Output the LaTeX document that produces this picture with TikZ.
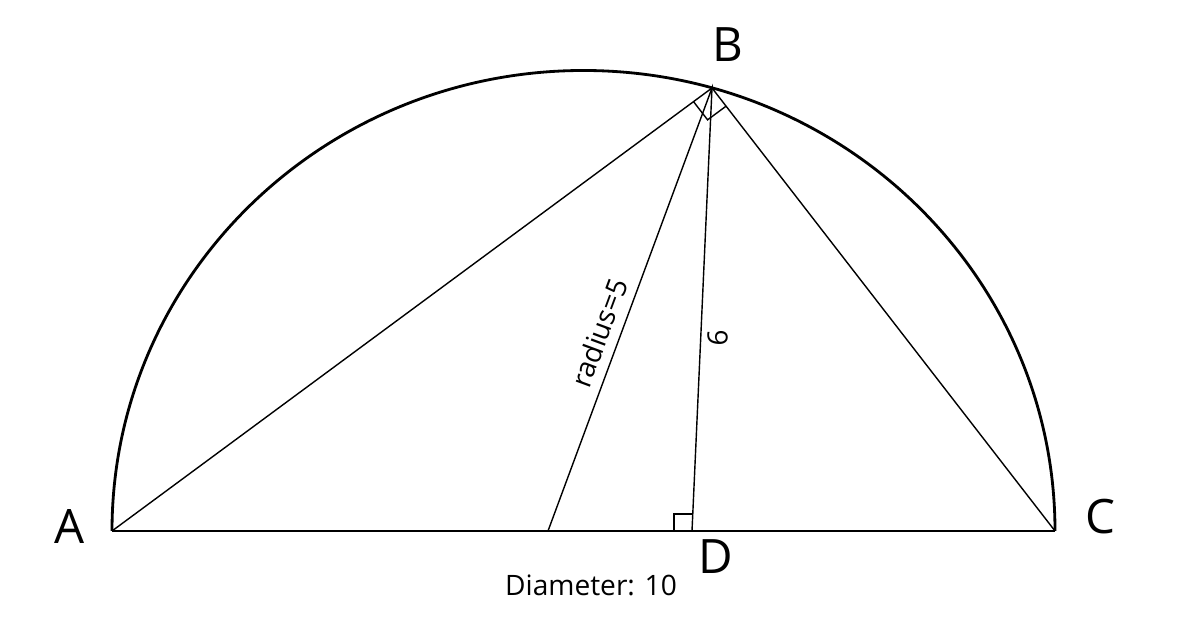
\documentclass[tikz,border=0pt]{standalone}
\usepackage{fontspec}
\setmainfont{Open Sans}
\usetikzlibrary{calc,positioning}

\begin{document}
\begin{tikzpicture}[x=0.02cm,y=0.02cm]
\tikzstyle{every node}+=[inner sep=0pt]
\tikzstyle{chord}=[black, line width=0.8pt]
\tikzstyle{vertex}=[font=\fontsize{27}{30}\selectfont]
\tikzstyle{measure}=[font=\fontsize{16}{19}\selectfont]
\useasboundingbox (0,0) rectangle (1200,631);
% points
\coordinate (A) at (112,100);
\coordinate (C) at (1055,100);
\coordinate (B) at (712,543);
\coordinate (D) at (692,100);
\coordinate (O) at (548,100);
% half circle and diameter
\draw [black, line width=1.6pt] (C) arc (0:180:471.5 and 460.5);
\draw [black, line width=1pt] (A) -- (C);
% chords
\draw [chord] (A) -- (B) -- (C);
\draw [chord] (O) -- (B) -- (D);
% right angles
\coordinate (ba) at ($(B)!0.46cm!(A)$);
\coordinate (bc) at ($(B)!0.46cm!(C)$);
\draw [chord] (ba) -- ($(ba)+(bc)-(B)$) -- (bc);
\draw [chord] (D) -- ++(-18,0) -- ++(0,17) -- ++(18,0);
% labels
\node [vertex] (lA) at (70,104) {A};
\node [vertex] (lB) at (728,586) {B};
\node [vertex] (lC) at (1100,114) {C};
\node [vertex] (lD) at (716,74) {D};
\node [measure] (diam) at (591,46) {Diameter: 10};
\node [measure, rotate=69.7] (rad) at (599,298) {radius=5};
\node [measure, rotate=87] (six) at (718,293) {6};
\end{tikzpicture}
\end{document}
